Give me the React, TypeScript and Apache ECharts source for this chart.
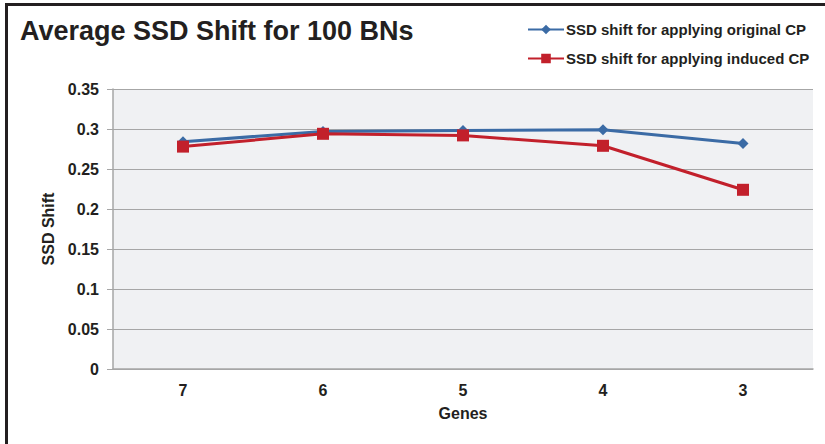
import React, { useEffect, useRef } from "react";
import * as echarts from "echarts";

const genes = ["7", "6", "5", "4", "3"];
const originalCP = [0.284, 0.297, 0.298, 0.299, 0.282];
const inducedCP = [0.278, 0.294, 0.292, 0.279, 0.224];
const yTicks = [0, 0.05, 0.1, 0.15, 0.2, 0.25, 0.3, 0.35];

const FONT = "'Liberation Sans', Arial, sans-serif";
const INK = "#231f20";
const BLUE = "#3b6ba5";
const RED = "#c2202b";

export default function App() {
  const ref = useRef<HTMLDivElement>(null);

  useEffect(() => {
    if (!ref.current) return;
    const chart = echarts.init(ref.current, null, { renderer: "svg" });
    chart.setOption({
      animation: false,
      backgroundColor: "#ffffff",
      textStyle: { fontFamily: FONT },
      title: {
        text: "Average SSD Shift for 100 BNs",
        left: 15,
        top: 12,
        textStyle: { fontFamily: FONT, fontSize: 27, fontWeight: "bold", color: INK },
      },
      legend: {
        orient: "vertical",
        left: 522,
        top: 17,
        itemGap: 14,
        itemWidth: 36,
        itemHeight: 12,
        textStyle: { fontFamily: FONT, fontSize: 15, fontWeight: "bold", color: INK, padding: [0, 0, 0, -3] },
        data: ["SSD shift for applying original CP", "SSD shift for applying induced CP"],
      },
      graphic: [
        {
          type: "rect",
          shape: { x: 6.5, y: 4.5, width: 1000, height: 1000 },
          style: { fill: "none", stroke: INK, lineWidth: 3 },
          silent: true,
        },
      ],
      grid: {
        left: 113,
        right: 12,
        top: 89,
        bottom: 75,
        show: true,
        backgroundColor: "#f0f1f3",
        borderWidth: 0,
      },
      xAxis: {
        type: "category",
        data: genes,
        boundaryGap: true,
        name: "Genes",
        nameLocation: "middle",
        nameGap: 36,
        nameTextStyle: { fontFamily: FONT, fontSize: 16, fontWeight: "bold", color: INK },
        axisLine: { lineStyle: { color: "#a6a6a6", width: 1.5 } },
        axisTick: { show: false },
        axisLabel: { fontFamily: FONT, fontSize: 16, fontWeight: "bold", color: INK, margin: 13 },
      },
      yAxis: {
        type: "value",
        min: yTicks[0],
        max: yTicks[yTicks.length - 1],
        interval: 0.05,
        name: "SSD Shift",
        nameLocation: "middle",
        nameGap: 55,
        nameRotate: 90,
        nameTextStyle: { fontFamily: FONT, fontSize: 16, fontWeight: "bold", color: INK },
        axisLine: { show: true, lineStyle: { color: "#a6a6a6", width: 1.5 } },
        axisTick: { show: true, length: 6, lineStyle: { color: "#a6a6a6" } },
        axisLabel: {
          fontFamily: FONT,
          fontSize: 16,
          fontWeight: "bold",
          color: INK,
          margin: 14,
          formatter: (v: number) => String(Number(v.toFixed(2))),
        },
        splitLine: { lineStyle: { color: "#a6a6a6", width: 1 } },
      },
      series: [
        {
          name: "SSD shift for applying original CP",
          type: "line",
          data: originalCP,
          symbol: "diamond",
          symbolSize: 11,
          lineStyle: { color: BLUE, width: 3 },
          itemStyle: { color: BLUE },
        },
        {
          name: "SSD shift for applying induced CP",
          type: "line",
          data: inducedCP,
          symbol: "rect",
          symbolSize: 12,
          lineStyle: { color: RED, width: 3 },
          itemStyle: { color: RED },
        },
      ],
    });
    return () => chart.dispose();
  }, []);

  return (
    <div
      ref={ref}
      style={{ position: "fixed", left: 0, top: 0, width: 825, height: 444 }}
    />
  );
}
